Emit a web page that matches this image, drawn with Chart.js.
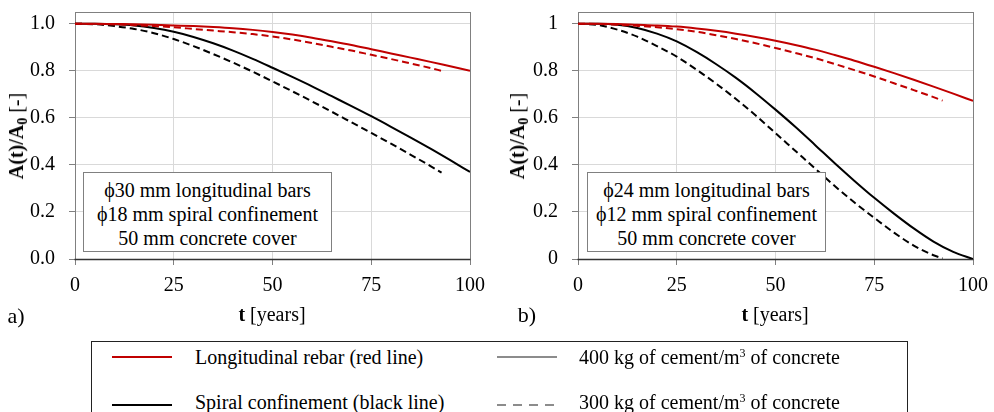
<!DOCTYPE html>
<html><head><meta charset="utf-8">
<script src="https://cdn.jsdelivr.net/npm/chart.js@4"></script>
<style>
html,body{margin:0;padding:0;background:#fff;width:994px;height:412px;overflow:hidden;font-family:"Liberation Serif","Times New Roman",serif;color:#000}
.abs{position:absolute;white-space:nowrap}
.ytitle{font-size:20px;line-height:20px;transform:translate(-50%,-50%) rotate(-90deg)}
.ytitle sub{font-size:14px;vertical-align:-4px;line-height:0}
.xtitle{font-size:20px;line-height:20px;transform:translate(-50%,-50%)}
.plab{font-size:22px;line-height:22px;transform:translate(-50%,-50%)}
.note{border:1px solid #808080;background:#fff;font-size:20px;line-height:24px;text-align:center;box-sizing:border-box;padding-top:5px}
.leg{border:1px solid #222;box-sizing:border-box}
.ltxt{font-size:20px;line-height:24px}
.ltxt sup{font-size:12px;vertical-align:7px;line-height:0}
</style></head><body>
<canvas id="ca" width="497" height="335" style="position:absolute;left:0;top:0"></canvas>
<canvas id="cb" width="497" height="335" style="position:absolute;left:497px;top:0"></canvas>

<div class="abs ytitle" style="left:16px;top:136px"><b>A(t)/A<sub>0</sub></b> [-]</div>
<div class="abs ytitle" style="left:517px;top:136px"><b>A(t)/A<sub>0</sub></b> [-]</div>
<div class="abs xtitle" style="left:272px;top:314px"><b>t</b> [years]</div>
<div class="abs xtitle" style="left:775px;top:314px"><b>t</b> [years]</div>
<div class="abs plab" style="left:16px;top:316px">a)</div>
<div class="abs plab" style="left:527px;top:315px">b)</div>

<div class="abs note" style="left:83px;top:172px;width:249px;height:80px">ϕ30 mm longitudinal bars<br>ϕ18 mm spiral confinement<br>50 mm concrete cover</div>
<div class="abs note" style="left:587px;top:172px;width:239px;height:80px">ϕ24 mm longitudinal bars<br>ϕ12 mm spiral confinement<br>50 mm concrete cover</div>

<div class="abs leg" style="left:91px;top:341px;width:817px;height:90px"></div>
<div class="abs" style="left:112px;top:356px;width:60px;height:2px;background:#c00000"></div>
<div class="abs" style="left:112px;top:404px;width:60px;height:2px;background:#000"></div>
<div class="abs" style="left:497px;top:356px;width:60px;height:2px;background:#8c8c8c"></div>
<svg class="abs" style="left:497px;top:403px" width="62" height="4"><line x1="0" y1="2" x2="61" y2="2" stroke="#8c8c8c" stroke-width="2" stroke-dasharray="9,7"/></svg>
<div class="abs ltxt" style="left:195px;top:345px">Longitudinal rebar (red line)</div>
<div class="abs ltxt" style="left:195px;top:390px">Spiral confinement (black line)</div>
<div class="abs ltxt" style="left:579px;top:345px">400 kg of cement/m<sup>3</sup> of concrete</div>
<div class="abs ltxt" style="left:579px;top:390px">300 kg of cement/m<sup>3</sup> of concrete</div>

<script>
// time axis (years)
const t400  = [0,5,10,15,20,25,30,35,40,45,50,55,60,65,70,75,80,85,90,95,100];
const t300a = [0,5,10,15,20,25,30,35,40,45,50,55,60,65,70,75,80,85,90,92.8];
const t300b = [0,5,10,15,20,25,30,35,40,45,50,55,60,65,70,75,80,85,90,92.3];
const xTicks = [0,25,50,75,100];
const yTicks = [0,0.2,0.4,0.6,0.8,1.0];

// panel a) phi30 longitudinal / phi18 spiral
const redA400   = [1,1,0.999,0.998,0.996,0.993,0.99,0.986,0.981,0.974,0.965,0.954,0.941,0.926,0.91,0.892,0.874,0.856,0.838,0.819,0.80];
const redA300   = [1,0.999,0.997,0.994,0.99,0.985,0.978,0.971,0.964,0.956,0.946,0.933,0.918,0.902,0.886,0.868,0.85,0.831,0.812,0.80];
const blackA400 = [1,1,0.998,0.993,0.982,0.966,0.944,0.917,0.886,0.851,0.813,0.774,0.734,0.692,0.65,0.607,0.562,0.516,0.469,0.42,0.37];
const blackA300 = [1,0.998,0.99,0.978,0.96,0.935,0.905,0.871,0.835,0.796,0.755,0.713,0.67,0.626,0.581,0.536,0.49,0.443,0.395,0.367];

// panel b) phi24 longitudinal / phi12 spiral
const redB400   = [1,1,0.999,0.996,0.993,0.988,0.98,0.97,0.958,0.944,0.928,0.91,0.89,0.867,0.843,0.817,0.79,0.762,0.733,0.703,0.672];
const redB300   = [1,0.999,0.996,0.991,0.985,0.977,0.966,0.951,0.935,0.917,0.897,0.876,0.854,0.829,0.803,0.776,0.747,0.718,0.688,0.673];
const blackB400 = [1,1,0.996,0.982,0.958,0.925,0.88,0.828,0.77,0.705,0.635,0.562,0.485,0.407,0.332,0.26,0.193,0.13,0.074,0.03,0];
const blackB300 = [1,0.995,0.975,0.945,0.905,0.86,0.805,0.745,0.68,0.61,0.535,0.46,0.385,0.31,0.24,0.175,0.112,0.057,0.016,0.003];

const RED = '#c00000', BLACK = '#000000';
Chart.defaults.font.family = "'Liberation Serif', 'Times New Roman', serif";
const FONT = {family:"'Liberation Serif', 'Times New Roman', serif", size:20};

function pts(ts, vs){ return ts.map((x,i)=>({x:x, y:vs[i]})); }
function ds(ts, vs, color, dashed){
  return {data:pts(ts,vs), borderColor:color, borderWidth:2, borderDash: dashed?[7,4]:[],
          pointRadius:0, fill:false, cubicInterpolationMode:'monotone'};
}

const framePlugin = {
  id:'frame',
  beforeDatasetsDraw(c){
    const a = c.chartArea, ctx = c.ctx;
    ctx.save();
    ctx.strokeStyle = '#808080'; ctx.lineWidth = 1;
    ctx.strokeRect(Math.round(a.left)+0.5, Math.round(a.top)+0.5, Math.round(a.right)-Math.round(a.left), Math.round(a.bottom)-Math.round(a.top));
    ctx.strokeStyle = '#333'; ctx.lineWidth = 1.5;
    ctx.beginPath(); ctx.moveTo(a.left-0.5, Math.round(a.bottom)+0.5); ctx.lineTo(a.right+0.5, Math.round(a.bottom)+0.5); ctx.stroke();
    ctx.restore();
  }
};

function makeChart(id, sets, yW, padR, fmt){
  return new Chart(document.getElementById(id), {
    type:'line',
    data:{datasets:sets},
    options:{
      responsive:false, animation:false, devicePixelRatio:1,
      layout:{padding:{top:12, right:padR, left:0, bottom:0}},
      plugins:{legend:{display:false}, tooltip:{enabled:false}},
      scales:{
        x:{type:'linear', min:0, max:100,
           afterBuildTicks(s){ s.ticks = xTicks.map(v=>({value:v})); },
           afterFit(s){ s.height = 335-259; s.paddingLeft=0; s.paddingRight=0; },
           ticks:{font:FONT, color:'#000', padding:9, maxRotation:0, autoSkip:false},
           grid:{color:'#d9d9d9', tickColor:'#808080', tickLength:6, lineWidth:1},
           border:{display:false}},
        y:{min:0, max:1.05,
           afterBuildTicks(s){ s.ticks = yTicks.map(v=>({value:v})); },
           afterFit(s){ s.width = yW; s.paddingTop=0; s.paddingBottom=0; },
           ticks:{font:FONT, color:'#000', padding:14, autoSkip:false, callback:fmt},
           grid:{color:'#d9d9d9', tickColor:'#808080', tickLength:6, lineWidth:1},
           border:{display:false}}
      }
    },
    plugins:[framePlugin]
  });
}

makeChart('ca', [
  ds(t400, redA400, RED, false), ds(t300a, redA300, RED, true),
  ds(t400, blackA400, BLACK, false), ds(t300a, blackA300, BLACK, true)
], 75, 27, v=>Number(v).toFixed(1));

makeChart('cb', [
  ds(t400, redB400, RED, false), ds(t300b, redB300, RED, true),
  ds(t400, blackB400, BLACK, false), ds(t300b, blackB300, BLACK, true)
], 81, 21, v=>{ const r=Math.round(v*10)/10; return (r===0||r===1)? String(r) : r.toFixed(1); });
</script>
</body></html>
